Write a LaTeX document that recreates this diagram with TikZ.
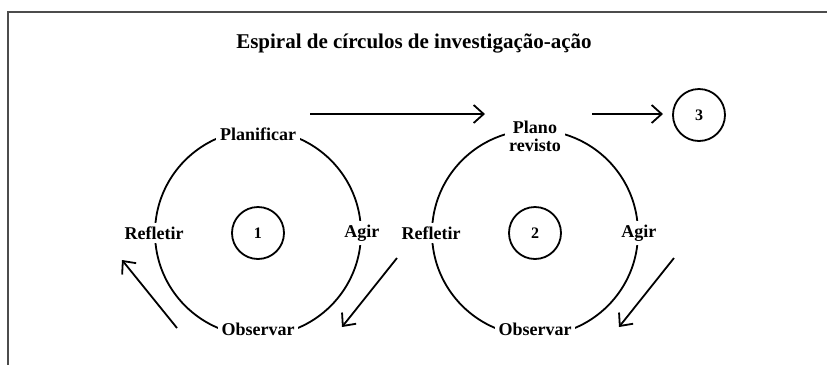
\documentclass[tikz,border=0pt]{standalone}
\usepackage{fontspec}
\setmainfont{Liberation Serif}
\usetikzlibrary{arrows.meta,positioning}
\begin{document}
\begin{tikzpicture}
    [x=0.5pt,y=-0.5pt,line width=0.9pt,
     bigcycle/.style={circle,draw,minimum size=103pt,inner sep=0pt},
     numcircle/.style={circle,draw,minimum size=26pt,inner sep=0pt,font=\bfseries\footnotesize},
     lbl/.style={fill=white,inner sep=2pt,font=\bfseries\small,align=center},
     spiral/.style={-{Straight Barb[length=5pt,width=9pt]}}]
    \useasboundingbox (0,0) rectangle (827,365);
    % frame
    \draw[line width=0.8pt,black!70] (8,365) -- (8,12) -- (827,12);
    \node[font=\fontsize{10.5}{12}\bfseries\selectfont] (title) at (414,43) {Espiral de círculos de investigação-ação};
    % first cycle
    \node[bigcycle] (cyc1) at (258,233) {};
    \node[numcircle] (num1) at (cyc1.center) {1};
    \node[lbl] (plan1) at ([yshift=-2.5pt]cyc1.north) {Planificar};
    \node[lbl] (agir1) at (cyc1.east) {Agir};
    \node[lbl] (obs1) at ([yshift=4pt]cyc1.south) {Observar};
    \node[lbl] (refl1) at (cyc1.west) {Refletir};
    % second cycle
    \node[bigcycle] (cyc2) at (535,233) {};
    \node[numcircle] (num2) at (cyc2.center) {2};
    \node[lbl] (plan2) at ([yshift=-3.5pt]cyc2.north) {Plano\\[-2pt]revisto};
    \node[lbl] (agir2) at (cyc2.east) {Agir};
    \node[lbl] (obs2) at ([yshift=4pt]cyc2.south) {Observar};
    \node[lbl] (refl2) at (cyc2.west) {Refletir};
    % third cycle
    \node[numcircle] (cyc3) at (699,115) {3};
    % arrows
    \coordinate (top1s) at (310,114);
    \coordinate (top1e) at (485,114);
    \coordinate (top2s) at (592,114);
    \coordinate (top2e) at (663,114);
    \coordinate (left1s) at (177,328);
    \coordinate (left1e) at (122,260);
    \coordinate (mid1s) at (397,258);
    \coordinate (mid1e) at (342,327);
    \coordinate (right2s) at (674,258);
    \coordinate (right2e) at (619,327);
    \draw[spiral] (top1s) -- (top1e);
    \draw[spiral] (top2s) -- (top2e);
    \draw[spiral] (left1s) -- (left1e);
    \draw[spiral] (mid1s) -- (mid1e);
    \draw[spiral] (right2s) -- (right2e);
\end{tikzpicture}
\end{document}
